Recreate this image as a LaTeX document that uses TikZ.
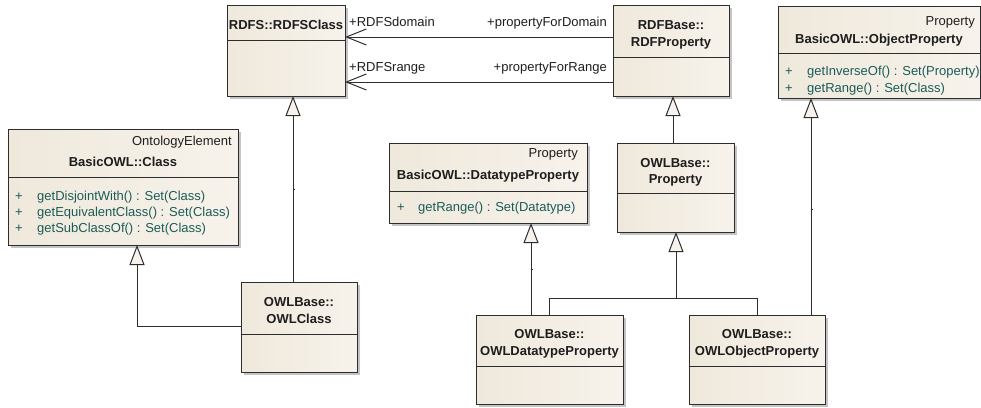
\documentclass[tikz,border=0pt]{standalone}
\usepackage{fontspec}
\setmainfont{Liberation Sans}
\usetikzlibrary{arrows.meta,shadows,calc}

\definecolor{linecol}{RGB}{45,45,45}
\definecolor{fillL}{RGB}{239,233,220}
\definecolor{fillR}{RGB}{247,242,235}
\definecolor{shadowcol}{RGB}{196,196,196}
\definecolor{opcol}{RGB}{28,92,88}
\definecolor{txtcol}{RGB}{30,30,30}

\tikzset{
  classbox/.style={draw=linecol, line width=1pt, left color=fillL, right color=fillR,
    inner sep=0pt, outer sep=0pt,
    drop shadow={shadow xshift=3pt, shadow yshift=-3pt, fill=shadowcol, opacity=1}},
  divider/.style={draw=linecol, line width=1pt},
  title/.style={font=\fontsize{13}{15}\selectfont\bfseries, text=txtcol, anchor=base, inner sep=0pt},
  stereo/.style={font=\fontsize{13}{15}\selectfont, text=txtcol, anchor=base east, inner sep=0pt},
  op/.style={font=\fontsize{13}{15}\selectfont, text=opcol, anchor=base west, inner sep=0pt},
  role/.style={font=\fontsize{13}{15}\selectfont, text=txtcol, inner sep=0pt},
  gen/.style={draw=linecol, line width=1pt, -{Triangle[length=20pt, width=15pt, fill=fillR]}},
  assoc/.style={draw=linecol, line width=1pt, -{Straight Barb[length=20pt, width=16pt]}},
  plainline/.style={draw=linecol, line width=1pt},
  tick/.style={draw=linecol, line width=0.8pt},
}

% class box: name, left, top, right, bottom, y of the compartment line
\newcommand\umlbox[6]{%
  \node[classbox, anchor=north west, minimum width={(#4)-(#2)}, minimum height={(#5)-(#3)}] (#1) at (#2,#3) {};
  \draw[divider] ([yshift={(#3)-(#6)}]#1.north west) -- ([yshift={(#3)-(#6)}]#1.north east);
}

\begin{document}
\begin{tikzpicture}[x=1pt,y=-1pt]
\useasboundingbox (0,0) rectangle (981,407);

% ---- classes ----
\umlbox{rdfs}{227}{5}{345}{96}{40}
\umlbox{rdfp}{613}{5}{729}{96}{57}
\umlbox{objp}{778}{6}{980}{98}{53}
\umlbox{cls}{8}{129}{238}{245}{177}
\umlbox{dtp}{389}{143}{587}{223}{191}
\umlbox{owlp}{617}{143}{734}{232}{193}
\umlbox{owlc}{241}{282}{357}{372}{334}
\umlbox{owldtp}{476}{315}{623}{404}{366}
\umlbox{owlop}{689}{315}{825}{404}{366}

% ---- class texts ----
\node[title] (rdfs-n) at (286,29) {RDFS::RDFSClass};

\node[title] (rdfp-n1) at (671,29) {RDFBase::};
\node[title] (rdfp-n2) at (671,46) {RDFProperty};

\node[stereo] (objp-s) at (975,25) {Property};
\node[title] (objp-n) at (879,43) {BasicOWL::ObjectProperty};
\node[op] (objp-p1) at (785,75) {+};
\node[op] (objp-o1) at (807,75) {getInverseOf() : Set(Property)};
\node[op] (objp-p2) at (785,92) {+};
\node[op] (objp-o2) at (807,92) {getRange() : Set(Class)};

\node[stereo] (cls-s) at (232,145) {OntologyElement};
\node[title] (cls-n) at (123,166) {BasicOWL::Class};
\node[op] (cls-p1) at (15,200) {+};
\node[op] (cls-o1) at (37,200) {getDisjointWith() : Set(Class)};
\node[op] (cls-p2) at (15,216) {+};
\node[op] (cls-o2) at (37,216) {getEquivalentClass() : Set(Class)};
\node[op] (cls-p3) at (15,232) {+};
\node[op] (cls-o3) at (37,232) {getSubClassOf() : Set(Class)};

\node[stereo] (dtp-s) at (578,157) {Property};
\node[title] (dtp-n) at (488,179) {BasicOWL::DatatypeProperty};
\node[op] (dtp-p1) at (397,211) {+};
\node[op] (dtp-o1) at (418,211) {getRange() : Set(Datatype)};

\node[title] (owlp-n1) at (675.5,167) {OWLBase::};
\node[title] (owlp-n2) at (675.5,183) {Property};

\node[title] (owlc-n1) at (299,306) {OWLBase::};
\node[title] (owlc-n2) at (299,323) {OWLClass};

\node[title] (owldtp-n1) at (549.5,338) {OWLBase::};
\node[title] (owldtp-n2) at (549.5,355) {OWLDatatypeProperty};

\node[title] (owlop-n1) at (757,338) {OWLBase::};
\node[title] (owlop-n2) at (757,355) {OWLObjectProperty};

% ---- associations RDFProperty -> RDFSClass ----
\coordinate (dom) at ([yshift=-32pt]rdfp.north west);
\coordinate (rng) at ([yshift=-77pt]rdfp.north west);
\draw[assoc] (dom) -- (dom -| rdfs.east);
\draw[assoc] (rng) -- (rng -| rdfs.east);
\node[role, anchor=base west] (dom-a) at (349,26) {+RDFSdomain};
\node[role, anchor=base east] (dom-b) at (607,26) {+propertyForDomain};
\node[role, anchor=base west] (rng-a) at (349,71) {+RDFSrange};
\node[role, anchor=base east] (rng-b) at (607,71) {+propertyForRange};

% ---- generalizations ----
\coordinate (g1) at ([xshift=52pt]owlc.north west);
\draw[gen] (g1) -- (g1 |- rdfs.south);
\draw[tick] ([yshift=93pt]g1) -- ++(2,0);

\coordinate (g2) at ([yshift=-44pt]owlc.north west);
\draw[gen] (g2) -| ([xshift=129pt]cls.south west);

\coordinate (g3) at ([xshift=56pt]owlp.north west);
\draw[gen] (g3) -- (g3 |- rdfp.south);

\coordinate (g4) at ([xshift=55pt]owldtp.north west);
\draw[gen] (g4) -- (g4 |- dtp.south);
\draw[tick] ([yshift=46pt]g4) -- ++(2,0);

\coordinate (tp) at ([xshift=59pt]owlp.south west);
\coordinate (jn) at ([yshift=-66pt]tp);
\coordinate (g5) at ([xshift=73pt]owldtp.north west);
\coordinate (g6) at ([xshift=68pt]owlop.north west);
\draw[plainline] (g5) |- (jn);
\draw[plainline] (g6) |- (jn);
\draw[gen] (jn) -- (tp);

\coordinate (g7) at ([xshift=122pt]owlop.north west);
\draw[gen] (g7) -- (g7 |- objp.south);
\draw[tick] ([yshift=106pt]g7) -- ++(2,0);
\end{tikzpicture}
\end{document}
